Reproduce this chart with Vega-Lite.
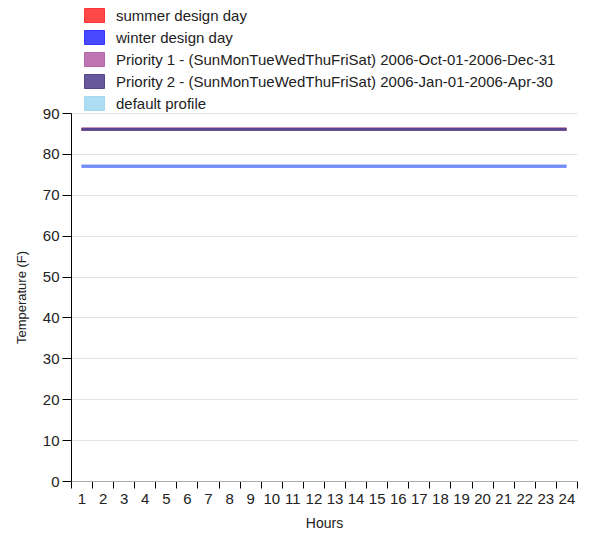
{
  "$schema": "https://vega.github.io/schema/vega-lite/v6.json",
  "width": 506,
  "height": 368,
  "autosize": {"type": "none"},
  "padding": {"left": 71, "top": 113, "right": 17, "bottom": 57},
  "background": "white",
  "data": {
    "values": [
      {"series": "summer design day", "hour": 1, "temp": 86}, {"series": "summer design day", "hour": 2, "temp": 86}, {"series": "summer design day", "hour": 3, "temp": 86}, {"series": "summer design day", "hour": 4, "temp": 86}, {"series": "summer design day", "hour": 5, "temp": 86}, {"series": "summer design day", "hour": 6, "temp": 86}, {"series": "summer design day", "hour": 7, "temp": 86}, {"series": "summer design day", "hour": 8, "temp": 86}, {"series": "summer design day", "hour": 9, "temp": 86}, {"series": "summer design day", "hour": 10, "temp": 86}, {"series": "summer design day", "hour": 11, "temp": 86}, {"series": "summer design day", "hour": 12, "temp": 86}, {"series": "summer design day", "hour": 13, "temp": 86}, {"series": "summer design day", "hour": 14, "temp": 86}, {"series": "summer design day", "hour": 15, "temp": 86}, {"series": "summer design day", "hour": 16, "temp": 86}, {"series": "summer design day", "hour": 17, "temp": 86}, {"series": "summer design day", "hour": 18, "temp": 86}, {"series": "summer design day", "hour": 19, "temp": 86}, {"series": "summer design day", "hour": 20, "temp": 86}, {"series": "summer design day", "hour": 21, "temp": 86}, {"series": "summer design day", "hour": 22, "temp": 86}, {"series": "summer design day", "hour": 23, "temp": 86}, {"series": "summer design day", "hour": 24, "temp": 86},
      {"series": "winter design day", "hour": 1, "temp": 77}, {"series": "winter design day", "hour": 2, "temp": 77}, {"series": "winter design day", "hour": 3, "temp": 77}, {"series": "winter design day", "hour": 4, "temp": 77}, {"series": "winter design day", "hour": 5, "temp": 77}, {"series": "winter design day", "hour": 6, "temp": 77}, {"series": "winter design day", "hour": 7, "temp": 77}, {"series": "winter design day", "hour": 8, "temp": 77}, {"series": "winter design day", "hour": 9, "temp": 77}, {"series": "winter design day", "hour": 10, "temp": 77}, {"series": "winter design day", "hour": 11, "temp": 77}, {"series": "winter design day", "hour": 12, "temp": 77}, {"series": "winter design day", "hour": 13, "temp": 77}, {"series": "winter design day", "hour": 14, "temp": 77}, {"series": "winter design day", "hour": 15, "temp": 77}, {"series": "winter design day", "hour": 16, "temp": 77}, {"series": "winter design day", "hour": 17, "temp": 77}, {"series": "winter design day", "hour": 18, "temp": 77}, {"series": "winter design day", "hour": 19, "temp": 77}, {"series": "winter design day", "hour": 20, "temp": 77}, {"series": "winter design day", "hour": 21, "temp": 77}, {"series": "winter design day", "hour": 22, "temp": 77}, {"series": "winter design day", "hour": 23, "temp": 77}, {"series": "winter design day", "hour": 24, "temp": 77},
      {"series": "Priority 1 - (SunMonTueWedThuFriSat) 2006-Oct-01-2006-Dec-31", "hour": 1, "temp": 86}, {"series": "Priority 1 - (SunMonTueWedThuFriSat) 2006-Oct-01-2006-Dec-31", "hour": 2, "temp": 86}, {"series": "Priority 1 - (SunMonTueWedThuFriSat) 2006-Oct-01-2006-Dec-31", "hour": 3, "temp": 86}, {"series": "Priority 1 - (SunMonTueWedThuFriSat) 2006-Oct-01-2006-Dec-31", "hour": 4, "temp": 86}, {"series": "Priority 1 - (SunMonTueWedThuFriSat) 2006-Oct-01-2006-Dec-31", "hour": 5, "temp": 86}, {"series": "Priority 1 - (SunMonTueWedThuFriSat) 2006-Oct-01-2006-Dec-31", "hour": 6, "temp": 86}, {"series": "Priority 1 - (SunMonTueWedThuFriSat) 2006-Oct-01-2006-Dec-31", "hour": 7, "temp": 86}, {"series": "Priority 1 - (SunMonTueWedThuFriSat) 2006-Oct-01-2006-Dec-31", "hour": 8, "temp": 86}, {"series": "Priority 1 - (SunMonTueWedThuFriSat) 2006-Oct-01-2006-Dec-31", "hour": 9, "temp": 86}, {"series": "Priority 1 - (SunMonTueWedThuFriSat) 2006-Oct-01-2006-Dec-31", "hour": 10, "temp": 86}, {"series": "Priority 1 - (SunMonTueWedThuFriSat) 2006-Oct-01-2006-Dec-31", "hour": 11, "temp": 86}, {"series": "Priority 1 - (SunMonTueWedThuFriSat) 2006-Oct-01-2006-Dec-31", "hour": 12, "temp": 86}, {"series": "Priority 1 - (SunMonTueWedThuFriSat) 2006-Oct-01-2006-Dec-31", "hour": 13, "temp": 86}, {"series": "Priority 1 - (SunMonTueWedThuFriSat) 2006-Oct-01-2006-Dec-31", "hour": 14, "temp": 86}, {"series": "Priority 1 - (SunMonTueWedThuFriSat) 2006-Oct-01-2006-Dec-31", "hour": 15, "temp": 86}, {"series": "Priority 1 - (SunMonTueWedThuFriSat) 2006-Oct-01-2006-Dec-31", "hour": 16, "temp": 86}, {"series": "Priority 1 - (SunMonTueWedThuFriSat) 2006-Oct-01-2006-Dec-31", "hour": 17, "temp": 86}, {"series": "Priority 1 - (SunMonTueWedThuFriSat) 2006-Oct-01-2006-Dec-31", "hour": 18, "temp": 86}, {"series": "Priority 1 - (SunMonTueWedThuFriSat) 2006-Oct-01-2006-Dec-31", "hour": 19, "temp": 86}, {"series": "Priority 1 - (SunMonTueWedThuFriSat) 2006-Oct-01-2006-Dec-31", "hour": 20, "temp": 86}, {"series": "Priority 1 - (SunMonTueWedThuFriSat) 2006-Oct-01-2006-Dec-31", "hour": 21, "temp": 86}, {"series": "Priority 1 - (SunMonTueWedThuFriSat) 2006-Oct-01-2006-Dec-31", "hour": 22, "temp": 86}, {"series": "Priority 1 - (SunMonTueWedThuFriSat) 2006-Oct-01-2006-Dec-31", "hour": 23, "temp": 86}, {"series": "Priority 1 - (SunMonTueWedThuFriSat) 2006-Oct-01-2006-Dec-31", "hour": 24, "temp": 86},
      {"series": "Priority 2 - (SunMonTueWedThuFriSat) 2006-Jan-01-2006-Apr-30", "hour": 1, "temp": 86}, {"series": "Priority 2 - (SunMonTueWedThuFriSat) 2006-Jan-01-2006-Apr-30", "hour": 2, "temp": 86}, {"series": "Priority 2 - (SunMonTueWedThuFriSat) 2006-Jan-01-2006-Apr-30", "hour": 3, "temp": 86}, {"series": "Priority 2 - (SunMonTueWedThuFriSat) 2006-Jan-01-2006-Apr-30", "hour": 4, "temp": 86}, {"series": "Priority 2 - (SunMonTueWedThuFriSat) 2006-Jan-01-2006-Apr-30", "hour": 5, "temp": 86}, {"series": "Priority 2 - (SunMonTueWedThuFriSat) 2006-Jan-01-2006-Apr-30", "hour": 6, "temp": 86}, {"series": "Priority 2 - (SunMonTueWedThuFriSat) 2006-Jan-01-2006-Apr-30", "hour": 7, "temp": 86}, {"series": "Priority 2 - (SunMonTueWedThuFriSat) 2006-Jan-01-2006-Apr-30", "hour": 8, "temp": 86}, {"series": "Priority 2 - (SunMonTueWedThuFriSat) 2006-Jan-01-2006-Apr-30", "hour": 9, "temp": 86}, {"series": "Priority 2 - (SunMonTueWedThuFriSat) 2006-Jan-01-2006-Apr-30", "hour": 10, "temp": 86}, {"series": "Priority 2 - (SunMonTueWedThuFriSat) 2006-Jan-01-2006-Apr-30", "hour": 11, "temp": 86}, {"series": "Priority 2 - (SunMonTueWedThuFriSat) 2006-Jan-01-2006-Apr-30", "hour": 12, "temp": 86}, {"series": "Priority 2 - (SunMonTueWedThuFriSat) 2006-Jan-01-2006-Apr-30", "hour": 13, "temp": 86}, {"series": "Priority 2 - (SunMonTueWedThuFriSat) 2006-Jan-01-2006-Apr-30", "hour": 14, "temp": 86}, {"series": "Priority 2 - (SunMonTueWedThuFriSat) 2006-Jan-01-2006-Apr-30", "hour": 15, "temp": 86}, {"series": "Priority 2 - (SunMonTueWedThuFriSat) 2006-Jan-01-2006-Apr-30", "hour": 16, "temp": 86}, {"series": "Priority 2 - (SunMonTueWedThuFriSat) 2006-Jan-01-2006-Apr-30", "hour": 17, "temp": 86}, {"series": "Priority 2 - (SunMonTueWedThuFriSat) 2006-Jan-01-2006-Apr-30", "hour": 18, "temp": 86}, {"series": "Priority 2 - (SunMonTueWedThuFriSat) 2006-Jan-01-2006-Apr-30", "hour": 19, "temp": 86}, {"series": "Priority 2 - (SunMonTueWedThuFriSat) 2006-Jan-01-2006-Apr-30", "hour": 20, "temp": 86}, {"series": "Priority 2 - (SunMonTueWedThuFriSat) 2006-Jan-01-2006-Apr-30", "hour": 21, "temp": 86}, {"series": "Priority 2 - (SunMonTueWedThuFriSat) 2006-Jan-01-2006-Apr-30", "hour": 22, "temp": 86}, {"series": "Priority 2 - (SunMonTueWedThuFriSat) 2006-Jan-01-2006-Apr-30", "hour": 23, "temp": 86}, {"series": "Priority 2 - (SunMonTueWedThuFriSat) 2006-Jan-01-2006-Apr-30", "hour": 24, "temp": 86},
      {"series": "default profile", "hour": 1, "temp": 77}, {"series": "default profile", "hour": 2, "temp": 77}, {"series": "default profile", "hour": 3, "temp": 77}, {"series": "default profile", "hour": 4, "temp": 77}, {"series": "default profile", "hour": 5, "temp": 77}, {"series": "default profile", "hour": 6, "temp": 77}, {"series": "default profile", "hour": 7, "temp": 77}, {"series": "default profile", "hour": 8, "temp": 77}, {"series": "default profile", "hour": 9, "temp": 77}, {"series": "default profile", "hour": 10, "temp": 77}, {"series": "default profile", "hour": 11, "temp": 77}, {"series": "default profile", "hour": 12, "temp": 77}, {"series": "default profile", "hour": 13, "temp": 77}, {"series": "default profile", "hour": 14, "temp": 77}, {"series": "default profile", "hour": 15, "temp": 77}, {"series": "default profile", "hour": 16, "temp": 77}, {"series": "default profile", "hour": 17, "temp": 77}, {"series": "default profile", "hour": 18, "temp": 77}, {"series": "default profile", "hour": 19, "temp": 77}, {"series": "default profile", "hour": 20, "temp": 77}, {"series": "default profile", "hour": 21, "temp": 77}, {"series": "default profile", "hour": 22, "temp": 77}, {"series": "default profile", "hour": 23, "temp": 77}, {"series": "default profile", "hour": 24, "temp": 77}
    ]
  },
  "mark": {"type": "line", "strokeWidth": 3},
  "encoding": {
    "x": {
      "field": "hour",
      "type": "ordinal",
      "scale": {"paddingInner": 0, "paddingOuter": 0},
      "axis": {
        "title": "Hours",
        "labelAngle": 0,
        "tickBand": "extent",
        "grid": false,
        "domainColor": "#aaaaaa",
        "tickColor": "#000000",
        "tickSize": 7,
        "labelPadding": 3,
        "titlePadding": 10,
        "titleFontSize": 14
      }
    },
    "y": {
      "field": "temp",
      "type": "quantitative",
      "scale": {"domain": [0, 90], "nice": false},
      "axis": {
        "title": "Temperature (F)",
        "values": [0, 10, 20, 30, 40, 50, 60, 70, 80, 90],
        "grid": true,
        "gridColor": "#e2e2e2",
        "domainColor": "#000000",
        "tickColor": "#000000",
        "tickSize": 9,
        "labelPadding": 3,
        "titlePadding": 14,
        "titleFontSize": 13
      }
    },
    "color": {
      "field": "series",
      "type": "nominal",
      "sort": null,
      "scale": {
        "domain": [
          "summer design day",
          "winter design day",
          "Priority 1 - (SunMonTueWedThuFriSat) 2006-Oct-01-2006-Dec-31",
          "Priority 2 - (SunMonTueWedThuFriSat) 2006-Jan-01-2006-Apr-30",
          "default profile"
        ],
        "range": ["#ff3535", "#3535ff", "#b766a9", "#55468f", "#a4d9f2"]
      },
      "legend": {
        "orient": "none",
        "legendX": 13,
        "legendY": -108,
        "title": null,
        "padding": 0,
        "symbolType": "M-1,-0.7H1V0.7H-1Z",
        "symbolSize": 400,
        "symbolOpacity": 1,
        "symbolStrokeWidth": 1,
        "labelOffset": 11,
        "rowPadding": 2,
        "labelLimit": 600,
        "labelFontSize": 15,
        "labelFont": "Liberation Sans",
        "labelColor": "#222222",
        "encode": {
          "symbols": {
            "update": {
              "fill": {"scale": "color", "field": "value"},
              "fillOpacity": {"value": 0.9},
              "stroke": {"scale": "color", "field": "value"},
              "strokeOpacity": {"value": 1}
            }
          }
        }
      }
    },
    "opacity": {
      "condition": {"test": "datum.series === 'default profile'", "value": 0.55},
      "value": 1
    }
  },
  "config": {
    "view": {"stroke": null},
    "axis": {
      "labelFont": "Liberation Sans",
      "labelFontSize": 15,
      "labelColor": "#222222",
      "titleFont": "Liberation Sans",
      "titleFontWeight": "normal",
      "titleColor": "#222222"
    }
  }
}
